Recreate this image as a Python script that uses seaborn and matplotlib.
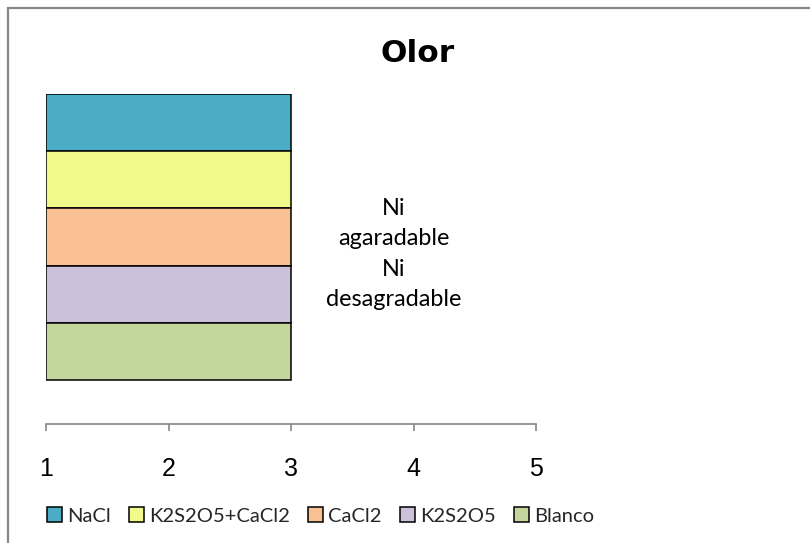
import matplotlib
matplotlib.use("Agg")
import matplotlib.pyplot as plt
import matplotlib.patches as mpatches
import seaborn as sns
import pandas as pd

categories = ["NaCl", "K2S2O5+CaCl2", "CaCl2", "K2S2O5", "Blanco"]
scores = [3, 3, 3, 3, 3]
baseline = 1
colors = ["#4BACC6", "#F1F98A", "#F9C191", "#CCC1DA", "#C3D69B"]
tick_values = [1, 2, 3, 4, 5]
title = "Olor"
note = "Ni\nagaradable\nNi\ndesagradable"

sns.set_theme(style="white")
plt.rcParams["font.family"] = ["Liberation Sans", "DejaVu Sans"]

df = pd.DataFrame({"cat": categories, "len": [s - baseline for s in scores]})

W, H = 810, 543
fig = plt.figure(figsize=(W / 100, H / 100), dpi=100)
ax = fig.add_axes([46 / W, 1 - 424 / H, (536 - 46) / W, (424 - 94) / H])

sns.barplot(data=df, x="len", y="cat", hue="cat", order=categories,
            hue_order=categories, palette=colors, saturation=1, orient="h",
            width=1.0, left=baseline, edgecolor="black", linewidth=1.1,
            legend=False, ax=ax)

ax.set_xlim(1, 5)
ax.set_ylim(5.27, -0.5)
ax.set_xticks(tick_values)
ax.set_xticklabels([str(t) for t in tick_values])
ax.set_yticks([])
ax.set_xlabel("")
ax.set_ylabel("")
for side in ["left", "right", "top"]:
    ax.spines[side].set_visible(False)
ax.spines["bottom"].set_color("#868686")
ax.spines["bottom"].set_linewidth(1.2)
ax.tick_params(axis="x", direction="out", length=5, width=1.2, color="#868686",
               pad=19, labelsize=18, labelcolor="black", bottom=True)

fig.text(418 / W, 1 - 53 / H, title, ha="center", va="center",
         fontsize=22.5, fontweight="bold", family=["DejaVu Sans"],
         color="black")

fig.text(394 / W, 1 - 254 / H, note, ha="center", va="center",
         fontsize=16.8, family=["Lato", "DejaVu Sans"], linespacing=1.55,
         color="black")

leg = ax.legend(handles=list(ax.patches), labels=categories, ncol=5,
                loc="center left", bbox_to_anchor=(47 / W, 1 - 516 / H),
                bbox_transform=fig.transFigure, frameon=False,
                prop={"family": ["Lato", "DejaVu Sans"], "size": 14.5},
                handlelength=0.75, handleheight=0.75, handletextpad=0.25,
                columnspacing=0.9, borderpad=0, borderaxespad=0)

border = mpatches.Rectangle((8 / W, -0.05), 1.2, 1.05 - 8 / H, fill=False,
                            edgecolor="#878787", linewidth=1.6,
                            transform=fig.transFigure)
fig.add_artist(border)

fig.savefig("out.png", dpi=100)
